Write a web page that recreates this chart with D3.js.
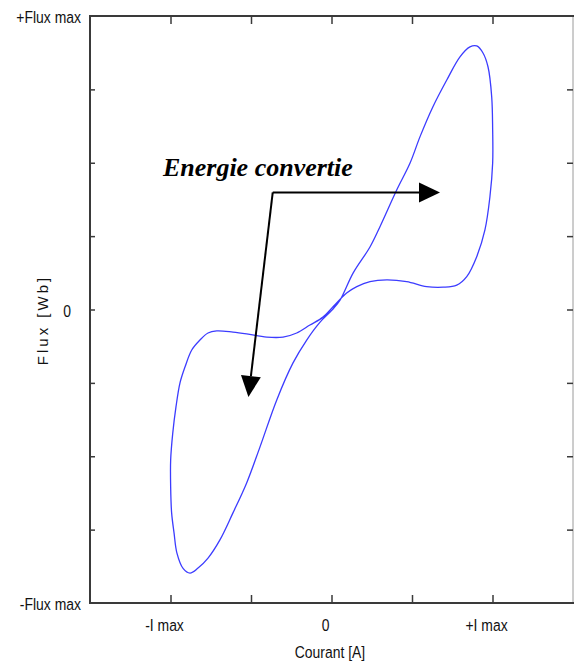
<!DOCTYPE html>
<html>
<head>
<meta charset="utf-8">
<script src="https://cdn.jsdelivr.net/npm/d3@7"></script>
<style>
    body { margin: 0; background: #fff; }
    svg { display: block; }
    .tick-label { font-family: "Liberation Sans", Arial, sans-serif; font-size: 17px; fill: #111; }
</style>
</head>
<body>
<div id="chart"></div>
<script>
// cycle courant / flux (unites : I max, Flux max)
var courant = [-0.879, -0.829, -0.767, -0.693, -0.612, -0.527, -0.444, -0.340, -0.239, -0.154, -0.071, 0.003,
    0.053, 0.134, 0.239, 0.301, 0.405, 0.488, 0.550, 0.630, 0.716, 0.798, 0.860, 0.902, 0.941, 0.972, 0.995,
    1.001, 1.001, 0.984, 0.953, 0.902, 0.840, 0.778, 0.694, 0.591, 0.467, 0.343, 0.239, 0.157, 0.094,
    0.011, -0.053, -0.134, -0.216, -0.301, -0.402, -0.527, -0.612, -0.713, -0.767, -0.817, -0.868,
    -0.910, -0.941, -0.966, -0.986, -0.999, -0.999, -0.993, -0.978, -0.960, -0.922];
var flux = [-0.898, -0.881, -0.847, -0.785, -0.693, -0.591, -0.468, -0.308, -0.182, -0.104, -0.043, -0.002,
    0.032, 0.124, 0.213, 0.282, 0.407, 0.499, 0.589, 0.691, 0.782, 0.861, 0.895, 0.898, 0.874, 0.827, 0.725,
    0.612, 0.499, 0.384, 0.271, 0.180, 0.112, 0.083, 0.076, 0.078, 0.095, 0.101, 0.095, 0.078, 0.056,
    0.010, -0.026, -0.053, -0.080, -0.094, -0.094, -0.083, -0.077, -0.073, -0.080, -0.104, -0.138,
    -0.196, -0.250, -0.332, -0.421, -0.513, -0.605, -0.693, -0.761, -0.830, -0.882];

var xTicks = [-1, -0.5, 0, 0.5, 1];
var xTickLabels = ["-I max", "", "0", "", "+I max"];
var yTicks = [-1, -0.75, -0.5, -0.25, 0, 0.25, 0.5, 0.75, 1];
var yTickLabels = ["-Flux max", "", "", "", "0", "", "", "", "+Flux max"];

// annotation : point de depart des fleches et leurs pointes
var flecheDepart = [-0.365, 0.399];
var flecheTips = [[0.674, 0.399], [-0.516, -0.298]];
var annotation = { texte: "Energie convertie", x: -1.047, y: 0.455 };

var drawChart = function () {
    var width = 574, height = 666;
    var pLeft = 90, pRight = 573, pTop = 16, pBottom = 603;
    var narrow = 0.82; //police etroite simulee

    var svg = d3.select("#chart").append("svg")
        .attr("width", width)
        .attr("height", height);

    var x = d3.scaleLinear().domain([-1.5, 1.5]).range([pLeft, pRight]);
    var y = d3.scaleLinear().domain([-1, 1]).range([pBottom, pTop]);

    var axisColor = "#3a3a3a";

    // cadre
    svg.append("line").attr("x1", pRight).attr("x2", pRight).attr("y1", pTop).attr("y2", pBottom)
        .attr("stroke", "#9a9a9a").attr("stroke-width", 1);
    svg.append("line").attr("x1", pLeft).attr("x2", pRight + 1).attr("y1", pTop).attr("y2", pTop)
        .attr("stroke", axisColor).attr("stroke-width", 2);

    // axes
    var gx = svg.append("g").attr("transform", "translate(0," + pBottom + ")")
        .call(d3.axisBottom(x).tickValues(xTicks).tickSize(-8).tickFormat(""));
    var gxTop = svg.append("g").attr("transform", "translate(0," + pTop + ")")
        .call(d3.axisTop(x).tickValues(xTicks).tickSize(-8).tickFormat(""));
    var gy = svg.append("g").attr("transform", "translate(" + pLeft + ",0)")
        .call(d3.axisLeft(y).tickValues(yTicks.slice(1, -1)).tickSize(-5).tickFormat(""));
    var gyRight = svg.append("g").attr("transform", "translate(" + pRight + ",0)")
        .call(d3.axisRight(y).tickValues(yTicks.slice(1, -1)).tickSize(-6).tickFormat(""));

    [gx, gxTop, gy, gyRight].forEach(function (g) {
        g.selectAll("line").attr("stroke", axisColor).attr("stroke-width", 1.5);
        g.select(".domain").remove();
    });
    svg.append("line").attr("x1", pLeft).attr("x2", pRight + 1).attr("y1", pBottom).attr("y2", pBottom)
        .attr("stroke", axisColor).attr("stroke-width", 2);
    svg.append("line").attr("x1", pLeft).attr("x2", pLeft).attr("y1", pTop - 1).attr("y2", pBottom + 1)
        .attr("stroke", axisColor).attr("stroke-width", 2);

    // etiquettes
    svg.selectAll(".xlab").data(xTicks).enter().append("text")
        .attr("class", "tick-label")
        .attr("transform", function (d) { return "translate(" + (x(d) - 6) + ",631) scale(" + narrow + ",1)"; })
        .attr("text-anchor", "middle")
        .text(function (d, i) { return xTickLabels[i]; });

    svg.selectAll(".ylab").data(yTicks).enter().append("text")
        .attr("class", "tick-label")
        .attr("transform", function (d) {
            return "translate(" + (d === 0 ? 71 : 81) + "," + (y(d) + 7) + ") scale(" + narrow + ",1)";
        })
        .attr("text-anchor", "end")
        .text(function (d, i) { return yTickLabels[i]; });

    svg.append("text")
        .attr("class", "tick-label")
        .attr("transform", "translate(330,658) scale(" + narrow + ",1)")
        .attr("text-anchor", "middle")
        .text("Courant [A]");

    svg.append("text")
        .attr("class", "tick-label")
        .attr("transform", "translate(48,320) rotate(-90)")
        .attr("text-anchor", "middle")
        .style("font-size", "15px")
        .style("letter-spacing", "3px")
        .text("Flux [Wb]");

    // cycle
    var points = courant.map(function (c, i) { return [c, flux[i]]; });
    var line = d3.line()
        .x(function (d) { return x(d[0]); })
        .y(function (d) { return y(d[1]); })
        .curve(d3.curveCatmullRomClosed.alpha(0.5));

    svg.append("path")
        .datum(points)
        .attr("d", line)
        .attr("fill", "none")
        .attr("stroke", "#3c3cff")
        .attr("stroke-width", 1.3);

    // fleches
    var x0 = x(flecheDepart[0]), y0 = y(flecheDepart[1]);
    flecheTips.forEach(function (t) {
        var tx = x(t[0]), ty = y(t[1]);
        var dx = tx - x0, dy = ty - y0;
        var len = Math.sqrt(dx * dx + dy * dy);
        var ux = dx / len, uy = dy / len;
        var bx = tx - ux * 21, by = ty - uy * 21;
        svg.append("line")
            .attr("x1", x0).attr("y1", y0).attr("x2", bx).attr("y2", by)
            .attr("stroke", "#000").attr("stroke-width", 2);
        svg.append("polygon")
            .attr("points", [[tx, ty], [bx - uy * 10, by + ux * 10], [bx + uy * 10, by - ux * 10]].join(" "))
            .attr("fill", "#000");
    });

    svg.append("text")
        .attr("x", x(annotation.x))
        .attr("y", y(annotation.y))
        .style("font-family", "'Liberation Serif', 'Times New Roman', serif")
        .style("font-weight", "bold")
        .style("font-style", "italic")
        .style("font-size", "26px")
        .text(annotation.texte);
};
drawChart();
</script>
</body>
</html>
